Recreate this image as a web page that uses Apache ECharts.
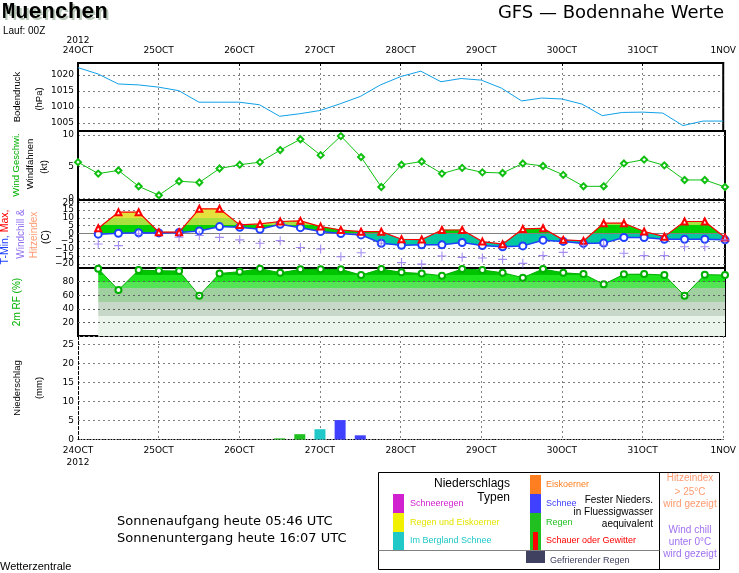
<!DOCTYPE html>
<html>
<head>
<meta charset="utf-8">
<title>Muenchen - GFS Bodennahe Werte</title>
<script src="https://cdn.jsdelivr.net/npm/echarts@6.0.0/dist/echarts.min.js"></script>
<style>
  html, body { margin: 0; padding: 0; background: #fff; }
  #chart { width: 739px; height: 573px; }
</style>
</head>
<body>
<div id="chart"></div>
<script>
// Stunden nach 24.10.2012 00Z, 6-stuendlich
var hours = [0, 6, 12, 18, 24, 30, 36, 42, 48, 54, 60, 66, 72, 78, 84, 90, 96,
  102, 108, 114, 120, 126, 132, 138, 144, 150, 156, 162, 168, 174, 180, 186, 192];
var dayLabels = ['24OCT', '25OCT', '26OCT', '27OCT', '28OCT', '29OCT', '30OCT', '31OCT', '1NOV'];

// Bodendruck (hPa), ab 0h
var druck = [1022.3, 1020.3, 1017.2, 1016.9, 1016.2, 1015.1, 1011.5, 1011.5, 1011.5, 1010.7, 1007.1,
  1007.9, 1008.9, 1011.0, 1013.3, 1016.9, 1019.5, 1021.2, 1017.9, 1018.9, 1018.4, 1015.9, 1011.9,
  1012.8, 1012.5, 1010.9, 1007.3, 1008.3, 1008.4, 1008.1, 1004.2, 1005.6, 1005.6];
// Windgeschwindigkeit (kt), ab 0h
var wind = [5.7, 3.9, 4.4, 1.9, 0.5, 2.7, 2.5, 4.7, 5.3, 5.7, 7.6, 9.3, 6.8, 9.8, 6.5, 1.8, 5.3,
  5.8, 3.9, 4.8, 4.1, 4.0, 5.5, 5.1, 3.7, 1.9, 1.9, 5.5, 6.1, 5.2, 2.9, 2.9, 1.8];
// Temperaturen (C), ab 6h
var tMax = [3.2, 13.6, 13.6, 0.7, 0.7, 15.8, 15.8, 5.4, 6.0, 7.6, 8.0, 4.3, 2.1, 1.0, 1.0, -3.9,
  -4.1, 2.1, 2.1, -5.4, -7.1, 2.8, 3.2, -4.3, -5.0, 6.5, 6.5, 1.1, -2.2, 7.6, 7.6, -2.8];
var tMin = [-0.6, 0.0, 0.3, 0.2, 0.5, 1.5, 4.3, 3.9, 2.6, 5.8, 3.6, 1.1, -0.2, -1.1, -6.5, -7.8,
  -7.5, -7.5, -6.0, -8.0, -8.8, -8.2, -4.5, -5.3, -6.6, -6.4, -2.8, -2.8, -3.9, -3.9, -3.9, -4.3];
var windchill = [-7.0, -8.0, -0.3, null, -2.6, -1.5, -2.7, -4.3, -6.5, -4.8, -9.2, -10.2, -15.2,
  -12.6, -6.5, -19.0, -20.0, -14.7, -15.6, -16.0, -16.9, -19.5, -14.5, -12.4, -7.6, -7.8, -13.0,
  -14.5, -14.5, -8.7, -8.7, -4.3];
// relative Feuchte 2m (%), ab 6h
var rf = [99, 67.6, 97, 96, 95.6, 59.3, 92, 94.6, 99, 93, 98, 98, 98, 89.7, 98.5, 93.6, 92, 88.7,
  98.5, 97, 93, 85.8, 98.5, 93, 91, 76, 90.7, 91, 89.7, 59.3, 90.2, 89.7];
// Niederschlag (mm / 6h)
var niedHours = [60, 66, 72, 78, 84];
var niedMenge = [0.3, 1.4, 2.7, 5.1, 1.1];
var niedTyp = ['Regen', 'Regen', 'Im Bergland Schnee', 'Schnee', 'Schnee'];

var typFarben = {
  'Schneeregen': '#d020d0',
  'Regen und Eiskoerner': '#f0f000',
  'Im Bergland Schnee': '#20c8c8',
  'Eiskoerner': '#ff7f20',
  'Schnee': '#4040ff',
  'Regen': '#20c020',
  'Schauer oder Gewitter': '#ff0000',
  'Gefrierender Regen': '#404060'
};

var chart = echarts.init(document.getElementById('chart'));

var left = 78, width = 647;
var grids = [
  { top: 63, height: 68 },    // Bodendruck
  { top: 131, height: 69 },   // Wind
  { top: 200, height: 68 },   // Temperatur
  { top: 268, height: 68 },   // Feuchte
  { top: 336, height: 103.5 } // Niederschlag
];
var tRange = [-22.5, 21.5];

function pairs(xs, ys) {
  var out = [];
  for (var k = 0; k < ys.length; k++) {
    if (ys[k] != null) out.push([xs[k], ys[k]]);
  }
  return out;
}

// horizontale Farbbaender als globaler Verlauf
function bands(g, min, max, levels, colors) {
  var stops = [], prev = 0;
  for (var k = 0; k < colors.length; k++) {
    var next = k < levels.length ? (max - levels[k]) / (max - min) : 1;
    stops.push({ offset: prev, color: colors[k] }, { offset: next, color: colors[k] });
    prev = next;
  }
  return new echarts.graphic.LinearGradient(0, g.top, 0, g.top + g.height, stops, true);
}

function everyFive(v) {
  var r = Math.round(v / 5) * 5;
  if (Math.abs(v - r) > 1e-6) return '';
  return r < 0 ? '\u2212' + Math.abs(r) : String(r);
}

var dotted = { color: '#808080', type: [2, 3], width: 1 };
var font = 'DejaVu Sans';
var labelStyle = { fontFamily: font, fontSize: 9, color: '#000', margin: 4 };

var windColors = [];
for (var k = 0; k < 20; k++) windColors.push(k === 1 ? '#808080' : 'rgba(0,0,0,0)');

var tHours = hours.slice(1);
var tempFill = bands(grids[2], tRange[0], tRange[1], [10, 5, 0],
  ['#e4e03c', '#a8e040', '#00d200', '#00c8a0']);

// Abschnitte zwischen T-Min und T-Max fuer die Flaeche
var tSegs = [];
for (var j = 0; j < tMax.length - 1; j++) {
  tSegs.push([tHours[j], tMin[j], tMax[j], tHours[j + 1], tMin[j + 1], tMax[j + 1]]);
}

var xAxes = grids.map(function (g, i) {
  return { type: 'value', gridIndex: i, min: 0, max: 192, interval: 24, show: false };
});
xAxes[0] = {
  type: 'value', gridIndex: 0, min: 0, max: 192, interval: 24, position: 'top',
  axisLine: { lineStyle: { color: '#000', width: 2 } },
  axisTick: { show: true, inside: true, length: 3, lineStyle: { color: '#000' } },
  axisLabel: {
    fontFamily: font, fontSize: 9, color: '#000', margin: 7, lineHeight: 10,
    showMinLabel: true, showMaxLabel: true,
    formatter: function (v) {
      var i = Math.round(v / 24);
      return i === 0 ? '2012\n' + dayLabels[0] : dayLabels[i];
    }
  },
  splitLine: { show: true, showMinLine: false, showMaxLine: false, lineStyle: dotted }
};
xAxes[4] = {
  type: 'value', gridIndex: 4, min: 0, max: 192, interval: 24, position: 'bottom',
  axisLine: { lineStyle: { color: '#000', type: [1, 2], width: 1 } },
  axisTick: { show: false },
  axisLabel: {
    fontFamily: font, fontSize: 9, color: '#000', margin: 5, lineHeight: 12,
    showMinLabel: true, showMaxLabel: true,
    formatter: function (v) {
      var i = Math.round(v / 24);
      return i === 0 ? dayLabels[0] + '\n2012' : dayLabels[i];
    }
  },
  splitLine: { show: true, lineStyle: dotted }
};

var yAxes = [
  {
    type: 'value', gridIndex: 0, min: 1002.5, max: 1023.75, interval: 2.5,
    axisLine: { show: true, lineStyle: { color: '#000', width: 2 } }, axisTick: { show: false },
    axisLabel: Object.assign({ formatter: everyFive }, labelStyle),
    splitLine: { show: true, lineStyle: { color: ['rgba(0,0,0,0)', '#808080'], type: [2, 3] } }
  },
  {
    type: 'value', gridIndex: 1, min: -0.25, max: 10.6, interval: 0.25,
    axisLine: { show: true, lineStyle: { color: '#000', width: 2 } }, axisTick: { show: false },
    axisLabel: Object.assign({ formatter: everyFive }, labelStyle),
    splitLine: { show: true, lineStyle: { color: windColors, type: [2, 3] } }
  },
  {
    type: 'value', gridIndex: 2, min: tRange[0], max: tRange[1], interval: 2.5,
    axisLine: { show: true, lineStyle: { color: '#000', width: 2 } }, axisTick: { show: false },
    axisLabel: Object.assign({ formatter: everyFive }, labelStyle),
    splitLine: { show: true, lineStyle: { color: ['rgba(0,0,0,0)', '#808080'], type: [2, 3] } }
  },
  {
    type: 'value', gridIndex: 3, min: 0, max: 100, interval: 20,
    axisLine: { show: true, lineStyle: { color: '#000', width: 2 } }, axisTick: { show: false },
    axisLabel: Object.assign({
      formatter: function (v) { return (v > 0 && v < 100) ? String(v) : ''; }
    }, labelStyle),
    splitLine: { show: false }
  },
  {
    type: 'value', gridIndex: 4, min: 0, max: 27.2, interval: 5,
    axisLine: { show: true, lineStyle: { color: '#000', type: [3, 2], width: 1 } },
    axisTick: { show: false },
    axisLabel: Object.assign({ formatter: everyFive }, labelStyle),
    splitLine: { show: true, lineStyle: dotted }
  }
];

var series = [
  {
    name: 'Bodendruck', type: 'line', xAxisIndex: 0, yAxisIndex: 0,
    data: pairs(hours, druck), symbol: 'none',
    lineStyle: { color: '#10a0e8', width: 1 }
  },
  {
    name: 'Wind', type: 'line', xAxisIndex: 1, yAxisIndex: 1,
    data: pairs(hours, wind), symbol: 'emptyDiamond', symbolSize: 6,
    itemStyle: { color: '#10c010', borderWidth: 1 },
    lineStyle: { color: '#10c010', width: 1 }
  },
  {
    name: 'Spanne', type: 'custom', xAxisIndex: 2, yAxisIndex: 2, z: 2,
    data: tSegs, encode: { x: [0, 3], y: [1, 2, 4, 5] },
    renderItem: function (params, api) {
      var a = api.coord([api.value(0), api.value(1)]);
      var b = api.coord([api.value(0), api.value(2)]);
      var c = api.coord([api.value(3), api.value(5)]);
      var d = api.coord([api.value(3), api.value(4)]);
      return {
        type: 'polygon', shape: { points: [a, b, c, d] },
        style: { fill: tempFill, stroke: tempFill, lineWidth: 0.6 }
      };
    }
  },
  {
    name: 'T-Min', type: 'line', xAxisIndex: 2, yAxisIndex: 2, z: 6,
    data: pairs(tHours, tMin), symbol: 'emptyCircle', symbolSize: 7,
    itemStyle: { color: '#2040ff', borderWidth: 1.2 },
    lineStyle: { color: '#2040ff', width: 1.5 },
    markLine: {
      silent: true, symbol: 'none', label: { show: false },
      lineStyle: { color: '#808080', type: 'solid', width: 1 },
      data: [{ yAxis: 0 }]
    }
  },
  {
    name: 'T-Max', type: 'line', xAxisIndex: 2, yAxisIndex: 2, z: 7,
    data: pairs(tHours, tMax), symbol: 'emptyTriangle', symbolSize: 6,
    itemStyle: { color: '#ff0000', borderWidth: 1 },
    lineStyle: { color: '#ff0000', width: 1.2 }
  },
  {
    name: 'Windchill', type: 'scatter', xAxisIndex: 2, yAxisIndex: 2, z: 8,
    data: pairs(tHours, windchill),
    symbol: 'path://M4.4,0H5.6V4.4H10V5.6H5.6V10H4.4V5.6H0V4.4H4.4Z', symbolSize: 9,
    itemStyle: { color: '#9070f0' }
  },
  {
    name: '2m RF', type: 'line', xAxisIndex: 3, yAxisIndex: 3, z: 3,
    data: pairs(tHours, rf), symbol: 'emptyCircle', symbolSize: 6,
    itemStyle: { color: '#00b000', borderWidth: 1 },
    lineStyle: { color: '#00b000', width: 1 },
    areaStyle: {
      opacity: 1,
      color: bands(grids[3], 0, 100, [90, 80, 70, 50, 30],
        ['#00c400', '#1ee41e', '#55e455', '#a0cfa0', '#c8d8c8', '#eaf4ea'])
    },
    markLine: {
      silent: true, symbol: 'none', label: { show: false },
      lineStyle: { color: '#606060', type: [2, 3], width: 1 },
      data: [{ yAxis: 20 }, { yAxis: 40 }, { yAxis: 60 }, { yAxis: 80 }]
    }
  },
  {
    name: 'Niederschlag', type: 'bar', xAxisIndex: 4, yAxisIndex: 4, barWidth: 11,
    data: niedHours.map(function (h, k) {
      return { value: [h, niedMenge[k]], itemStyle: { color: typFarben[niedTyp[k]] } };
    })
  }
];

function vText(x, y, text, color, size, rich) {
  return {
    type: 'text', x: x, y: y, rotation: Math.PI / 2, silent: true,
    style: {
      text: text, fill: color, rich: rich,
      font: (size || 9.5) + 'px "Liberation Sans"', align: 'center', verticalAlign: 'middle'
    }
  };
}
function hText(x, y, text, color, size, align, family) {
  return {
    type: 'text', x: x, y: y, silent: true,
    style: {
      text: text, fill: color || '#000',
      font: (size || 10) + 'px "' + (family || 'Liberation Sans') + '"',
      align: align || 'left', verticalAlign: 'middle'
    }
  };
}
function box(x, y, w, h, color) {
  return { type: 'rect', silent: true, shape: { x: x, y: y, width: w, height: h }, style: { fill: color } };
}

var graphics = [
  // Kopf
  { type: 'text', x: 4, y: 3, silent: true,
    style: { text: 'Muenchen', fill: '#b8c8b8', font: 'bold 22px "Liberation Mono"', verticalAlign: 'top' } },
  { type: 'text', x: 2, y: 1, silent: true,
    style: { text: 'Muenchen', fill: '#000', font: 'bold 22px "Liberation Mono"', verticalAlign: 'top' } },
  hText(3, 31, 'Lauf: 00Z', '#000', 10),
  hText(724, 13, 'GFS \u2014 Bodennahe Werte', '#000', 18, 'right', 'DejaVu Sans'),
  // Achsentitel
  vText(17, 97, 'Bodendruck', '#000'),
  vText(39, 99, '(hPa)', '#000'),
  vText(16, 165, 'Wind Geschwi.', '#00b000'),
  vText(30, 164, 'Windfahnen', '#000'),
  vText(44, 167, '(kt)', '#000'),
  vText(5, 237, '{b|T-Min,} {r|Max,}', '#000', 10.5, {
    b: { fill: '#2040ff', font: '10.5px "Liberation Sans"' },
    r: { fill: '#ff0000', font: '10.5px "Liberation Sans"' }
  }),
  vText(21, 234, 'Windchill &', '#9070f0', 10),
  vText(34, 235, 'Hitzeindex', '#ff9a70', 10),
  vText(46, 237, '(C)', '#000', 10),
  vText(17, 302, '2m RF (%)', '#00b000', 10),
  vText(17, 388, 'Niederschlag', '#000'),
  vText(39, 388, '(mm)', '#000'),
  // Sonne
  hText(117, 522, 'Sonnenaufgang heute 05:46 UTC', '#000', 13, 'left', 'DejaVu Sans'),
  hText(117, 539, 'Sonnenuntergang heute 16:07 UTC', '#000', 13, 'left', 'DejaVu Sans'),
  hText(0, 567, 'Wetterzentrale', '#000', 11),
  // Legende
  { type: 'rect', silent: true, shape: { x: 378.5, y: 472.5, width: 341, height: 97 },
    style: { fill: 'none', stroke: '#000', lineWidth: 1 } },
  { type: 'line', silent: true, shape: { x1: 659.5, y1: 472.5, x2: 659.5, y2: 569.5 },
    style: { stroke: '#000', lineWidth: 1 } },
  { type: 'line', silent: true, shape: { x1: 378.5, y1: 550.5, x2: 659.5, y2: 550.5 },
    style: { stroke: '#808080', lineWidth: 1 } },
  hText(510, 484, 'Niederschlags', '#000', 12, 'right'),
  hText(510, 498, 'Typen', '#000', 12, 'right'),
  box(393, 494, 11, 19, typFarben['Schneeregen']),
  box(393, 513, 11, 19, typFarben['Regen und Eiskoerner']),
  box(393, 532, 11, 18, typFarben['Im Bergland Schnee']),
  hText(410, 504, 'Schneeregen', typFarben['Schneeregen'], 9),
  hText(410, 523, 'Regen und Eiskoerner', '#e4e400', 9),
  hText(410, 541, 'Im Bergland Schnee', typFarben['Im Bergland Schnee'], 9),
  box(530, 475, 11, 19, typFarben['Eiskoerner']),
  box(530, 494, 11, 19, typFarben['Schnee']),
  box(530, 513, 11, 37, typFarben['Regen']),
  box(533, 532, 5, 18, typFarben['Schauer oder Gewitter']),
  box(526, 551, 19, 12, typFarben['Gefrierender Regen']),
  hText(546, 485, 'Eiskoerner', typFarben['Eiskoerner'], 9),
  hText(546, 504, 'Schnee', typFarben['Schnee'], 9),
  hText(546, 523, 'Regen', typFarben['Regen'], 9),
  hText(546, 541, 'Schauer oder Gewitter', typFarben['Schauer oder Gewitter'], 9),
  hText(550, 561, 'Gefrierender Regen', typFarben['Gefrierender Regen'], 9),
  hText(653, 500, 'Fester Nieders.', '#000', 10, 'right'),
  hText(653, 512, 'in Fluessigwasser', '#000', 10, 'right'),
  hText(653, 524, 'aequivalent', '#000', 10, 'right'),
  hText(690, 478, 'Hitzeindex', '#ff9a70', 10, 'center'),
  hText(690, 492, '> 25\u00b0C', '#ff9a70', 10, 'center'),
  hText(690, 504, 'wird gezeigt', '#ff9a70', 10, 'center'),
  hText(690, 530, 'Wind chill', '#a070f0', 10, 'center'),
  hText(690, 542, 'unter 0\u00b0C', '#a070f0', 10, 'center'),
  hText(690, 554, 'wird gezeigt', '#a070f0', 10, 'center')
];

chart.setOption({
  animation: false,
  backgroundColor: '#fff',
  grid: grids.map(function (g, i) {
    return {
      left: left, width: width, top: g.top, height: g.height,
      show: i < 4, borderColor: '#000', borderWidth: 2, backgroundColor: 'transparent'
    };
  }),
  xAxis: xAxes,
  yAxis: yAxes,
  series: series,
  graphic: graphics
});
</script>
</body>
</html>
